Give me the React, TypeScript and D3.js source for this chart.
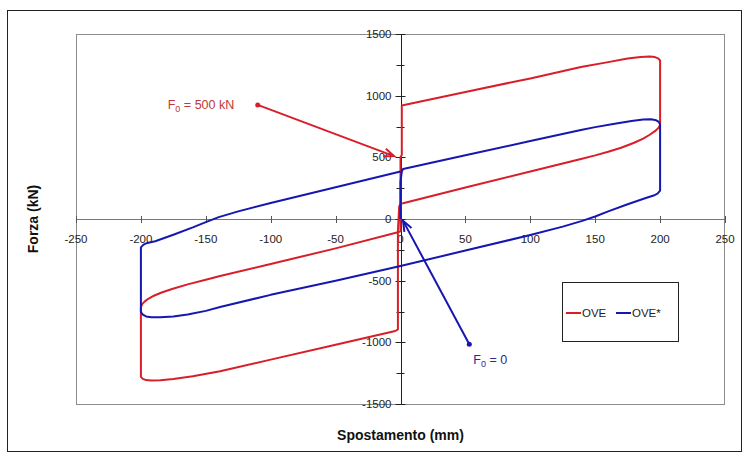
import React from 'react';
import * as d3 from 'd3';

// OVE (F0 = 500 kN) loop: spostamento (mm) / forza (kN)
const oveX = [0, 0, 1, 1, 50, 100, 139, 160, 175, 185, 192, 196, 198.5, 200, 200, 198.5, 196, 192, 187, 180, 170, 160, 150, 139, 100, 50, 2, 0, -1, -2, -2, -4, -50, -100, -139, -160, -175, -185, -192, -196, -198.5, -200, -200, -199, -197, -194, -190, -184, -176, -164, -150, -139, -100, -50, -2, 0, 0];
const oveY = [0, 500, 520, 920, 1030, 1140, 1232, 1272, 1302, 1314, 1317, 1313, 1302, 1285, 760, 735, 712, 683, 652, 618, 578, 545, 516, 487, 385, 255, 128, 125, 100, -100, -895, -908, -1020, -1140, -1235, -1275, -1298, -1308, -1310, -1306, -1296, -1280, -715, -690, -668, -645, -622, -596, -568, -530, -492, -462, -365, -238, -108, -100, 500];

// OVE* (F0 = 0) loop
const oveStarX = [0, 0, 1, 2, 50, 100, 139, 150, 165, 178, 187, 193, 197, 199, 200, 200, 198, 195, 189, 175, 160, 150, 140, 125, 100, 50, 0, -50, -100, -139, -150, -164, -175, -185, -192, -196, -198.5, -200, -200, -198, -195, -189, -175, -160, -150, -140, -125, -100, -50, 0];
const oveStarY = [0, 300, 385, 405, 517, 632, 722, 745, 772, 795, 806, 808, 800, 787, 765, 230, 205, 190, 170, 120, 62, 20, -15, -62, -130, -256, -381, -501, -615, -714, -745, -775, -790, -797, -797, -790, -776, -755, -230, -208, -194, -180, -128, -68, -25, 15, 62, 130, 258, 385];

const xTicks = [-250, -200, -150, -100, -50, 0, 50, 100, 150, 200, 250];
const yTicks = [-1500, -1000, -500, 0, 500, 1000, 1500];
const yMinor = [-1250, -750, -250, 250, 750, 1250];

const seriesNames = ['OVE', 'OVE*'];
const colors = ['#d81e28', '#1616b0'];

// annotations: dot and arrow tip in data units
const redNote = { label: '500 kN', dot: [-110, 925], tip: [-5, 510] };
const blueNote = { label: '0', dot: [53, -1015], tip: [2, -15] };

const W = 744;
const H = 454;
const font = 'Arial, "Liberation Sans", sans-serif';

function Arrow({ from, to, color }: { from: number[]; to: number[]; color: string }) {
  const ang = Math.atan2(to[1] - from[1], to[0] - from[0]);
  const len = 11;
  const spread = 0.38;
  const a1 = [to[0] - len * Math.cos(ang - spread), to[1] - len * Math.sin(ang - spread)];
  const a2 = [to[0] - len * Math.cos(ang + spread), to[1] - len * Math.sin(ang + spread)];
  return (
    <g stroke={color} strokeWidth={2} fill="none">
      <line x1={from[0]} y1={from[1]} x2={to[0]} y2={to[1]} />
      <polyline points={`${a1[0]},${a1[1]} ${to[0]},${to[1]} ${a2[0]},${a2[1]}`} />
      <circle cx={from[0]} cy={from[1]} r={2.5} fill={color} stroke="none" />
    </g>
  );
}

export default function App() {
  const x = d3.scaleLinear().domain([-250, 250]).range([76, 725]);
  const y = d3.scaleLinear().domain([-1500, 1500]).range([404, 34]);

  const toPath = (xs: number[], ys: number[]) =>
    d3
      .line<[number, number]>()
      .x((d) => x(d[0]))
      .y((d) => y(d[1]))(xs.map((v, i) => [v, ys[i]] as [number, number])) || '';

  const x0 = x(0);
  const y0 = y(0);

  const rd = [x(redNote.dot[0]), y(redNote.dot[1])];
  const rt = [x(redNote.tip[0]), y(redNote.tip[1])];
  const bd = [x(blueNote.dot[0]), y(blueNote.dot[1])];
  const bt = [x(blueNote.tip[0]), y(blueNote.tip[1])];

  return (
    <svg width={W} height={H} style={{ position: 'absolute', left: 0, top: 0, background: '#fff' }} fontFamily={font}>
      <rect x={7.5} y={10.5} width={734} height={441} fill="#fff" stroke="#222" strokeWidth={1} />
      {/* plot area */}
      <rect x={76.5} y={34.5} width={648} height={370} fill="none" stroke="#8c8c8c" strokeWidth={1} />

      {/* x axis */}
      <line x1={76} x2={725} y1={y0 + 0.5} y2={y0 + 0.5} stroke="#777" strokeWidth={1} />
      {xTicks.map((t) => (
        <g key={t}>
          <line x1={Math.round(x(t)) + 0.5} x2={Math.round(x(t)) + 0.5} y1={y0 - 3} y2={y0 + 4} stroke="#555" />
          <text x={x(t)} y={y0 + 24} textAnchor="middle" fontSize={11.5} fill="#222">
            {t}
          </text>
        </g>
      ))}

      {/* y axis */}
      <line x1={Math.round(x0) + 0.5} x2={Math.round(x0) + 0.5} y1={34} y2={405} stroke="#222" strokeWidth={1} />
      {yTicks.map((t) => (
        <g key={t}>
          <line x1={x0 - 5} x2={x0 + 5} y1={Math.round(y(t)) + 0.5} y2={Math.round(y(t)) + 0.5} stroke="#222" />
          <text x={x0 - 9} y={y(t) + 4} textAnchor="end" fontSize={11.5} fill="#222">
            {t}
          </text>
        </g>
      ))}
      {yMinor.map((t) => (
        <line key={t} x1={x0 - 4} x2={x0 + 4} y1={Math.round(y(t)) + 0.5} y2={Math.round(y(t)) + 0.5} stroke="#222" />
      ))}

      {/* curves */}
      <path d={toPath(oveX, oveY)} fill="none" stroke={colors[0]} strokeWidth={2} strokeLinejoin="round" />
      <path d={toPath(oveStarX, oveStarY)} fill="none" stroke={colors[1]} strokeWidth={2} strokeLinejoin="round" />

      {/* annotations */}
      <Arrow from={rd} to={rt} color={colors[0]} />
      <text x={rd[0] - 90} y={rd[1] + 4} fontSize={12.5} fill="#c03838">
        F<tspan fontSize={9} dy={3}>0</tspan>
        <tspan dy={-3}> = {redNote.label}</tspan>
      </text>
      <Arrow from={bd} to={bt} color={colors[1]} />
      <text x={bd[0] + 4} y={bd[1] + 20} fontSize={12.5} fill="#2a2a90">
        F<tspan fontSize={9} dy={3}>0</tspan>
        <tspan dy={-3}> = {blueNote.label}</tspan>
      </text>

      {/* legend */}
      <rect x={562.5} y={282.5} width={116} height={59} fill="#fff" stroke="#222" />
      {seriesNames.map((s, i) => (
        <g key={s} transform={`translate(${566 + i * 50}, 313)`}>
          <line x1={0} x2={15} y1={0} y2={0} stroke={colors[i]} strokeWidth={2} />
          <text x={16} y={4} fontSize={11.5} fill="#222">
            {s}
          </text>
        </g>
      ))}

      {/* axis titles */}
      <text x={x0} y={440} textAnchor="middle" fontSize={14} fontWeight="bold" fill="#111">
        Spostamento (mm)
      </text>
      <text transform={`translate(38, ${y0}) rotate(-90)`} textAnchor="middle" fontSize={14} fontWeight="bold" fill="#111">
        Forza (kN)
      </text>
    </svg>
  );
}
